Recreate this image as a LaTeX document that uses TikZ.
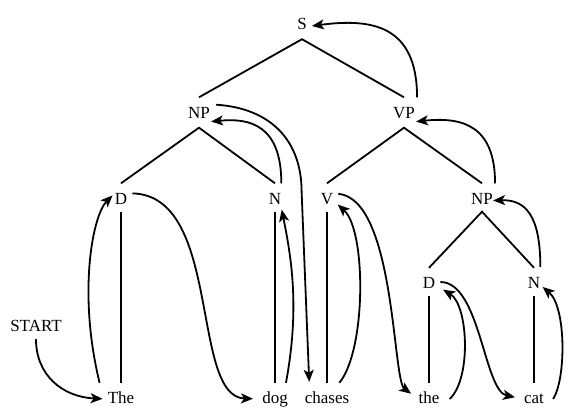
\documentclass[tikz,border=0pt]{standalone}
\usepackage{fontspec}
\setmainfont{Liberation Serif}
\usepackage{tikz}
\usetikzlibrary{arrows.meta}
\tikzset{>={Stealth[length=12pt,width=10pt,inset=3pt]}}

\begin{document}
\begin{tikzpicture}[x=1pt,y=1pt,
                    word/.style={inner sep=0pt, text height=11pt, text depth=3pt, anchor=base,
                                 font=\fontsize{17}{20}\selectfont},
                    branch/.style={line width=1.8pt, black},
                    walk/.style={line width=1.8pt, black, ->, shorten >=1pt},
                   ]

\useasboundingbox (0,0) rectangle (568,410);

% tree labels
\node[word] (S)   at (302,380)   {S};
\node[word] (NPa) at (199,291.5) {NP};
\node[word] (VP)  at (404,291.5) {VP};
\node[word] (Da)  at (121,205.5) {D};
\node[word] (Na)  at (275,205.5) {N};
\node[word] (V)   at (327,205.5) {V};
\node[word] (NPb) at (482,205.5) {NP};
\node[word] (Db)  at (429,121)   {D};
\node[word] (Nb)  at (534,121)   {N};

% words
\node[word] (start)  at (36,78)  {START};
\node[word] (The)    at (121,7)  {The};
\node[word] (dog)    at (275,7)  {dog};
\node[word] (chases) at (327,7)  {chases};
\node[word] (the)    at (429,7)  {the};
\node[word] (cat)    at (534,7)  {cat};

% branches
\draw[branch] ([yshift=10pt]NPa.north) -- ([yshift=-6pt]S.south) -- ([yshift=10pt]VP.north);
\draw[branch] ([yshift=10pt]Da.north) -- ([yshift=-6pt]NPa.south) -- ([yshift=10pt]Na.north);
\draw[branch] ([yshift=10pt]V.north) -- ([yshift=-6pt]VP.south) -- ([yshift=10pt]NPb.north);
\draw[branch] ([yshift=10pt]Db.north) -- ([yshift=-4pt]NPb.south) -- ([yshift=10pt]Nb.north);
\draw[branch] ([yshift=-4pt]Da.south) -- ([yshift=9pt]The.north);
\draw[branch] ([yshift=-4pt]Na.south) -- ([yshift=9pt]dog.north);
\draw[branch] ([yshift=-4pt]V.south) -- ([yshift=9pt]chases.north);
\draw[branch] ([yshift=-4pt]Db.south) -- ([yshift=9pt]the.north);
\draw[branch] ([yshift=-4pt]Nb.south) -- ([yshift=9pt]cat.north);

% the walk round the tree
\draw[walk, shorten <=4pt, shorten >=5pt] (start.south) .. controls +(0,-40) and +(-45,2) .. (The.west);
\draw[walk, shorten >=3pt] ([xshift=-8pt,yshift=9pt]The.north west) .. controls +(-22,90) and +(-22,-22) .. (Da.north west);
\draw[walk, shorten <=5pt, shorten >=9pt] (Da.north east) .. controls +(95,-2) and +(-72,2) .. (dog.west);
\draw[walk, shorten >=2pt] ([xshift=-2pt,yshift=9pt]dog.north east) .. controls +(14,75) and +(10,-50) .. (Na.south east);
\draw[walk, shorten <=10pt] (Na.north east) .. controls +(0,68) and +(40,4) .. (NPa.south east);
\draw[walk, shorten <=6pt, shorten >=10pt] ([yshift=3pt]NPa.north east) .. controls +(62,-4) and +(0,50) .. ([xshift=-3pt,yshift=200pt]chases.north west) -- ([xshift=5pt]chases.north west);
\draw[walk, shorten >=6pt] ([xshift=-10pt,yshift=9pt]chases.north east) .. controls +(27,33) and +(33,-30) .. (V.east);
\draw[walk, shorten <=5pt, shorten >=9pt] (V.north east) .. controls +(62,-6) and +(-26,19) .. (the.west);
\draw[walk, shorten >=9pt] ([xshift=10pt]the.east) .. controls +(22,20) and +(33,-20) .. (Db.east);
\draw[walk, shorten <=5pt, shorten >=9pt] ([yshift=3pt]Db.east) .. controls +(45,0) and +(-40,8) .. (cat.west);
\draw[walk, shorten >=3pt] ([xshift=9pt]cat.east) .. controls +(13,20) and +(26,-22) .. (Nb.east);
\draw[walk, shorten <=11pt, shorten >=0pt] (Nb.north east) .. controls +(0,63) and +(32,1) .. (NPb.east);
\draw[walk, shorten <=10pt] ([xshift=2pt]NPb.north east) .. controls +(0,68) and +(47,5) .. (VP.south east);
\draw[walk, shorten <=10pt, shorten >=0pt] ([xshift=2pt]VP.north east) .. controls +(0,82) and +(60,8) .. ([xshift=5pt]S.east);

\end{tikzpicture}
\end{document}
